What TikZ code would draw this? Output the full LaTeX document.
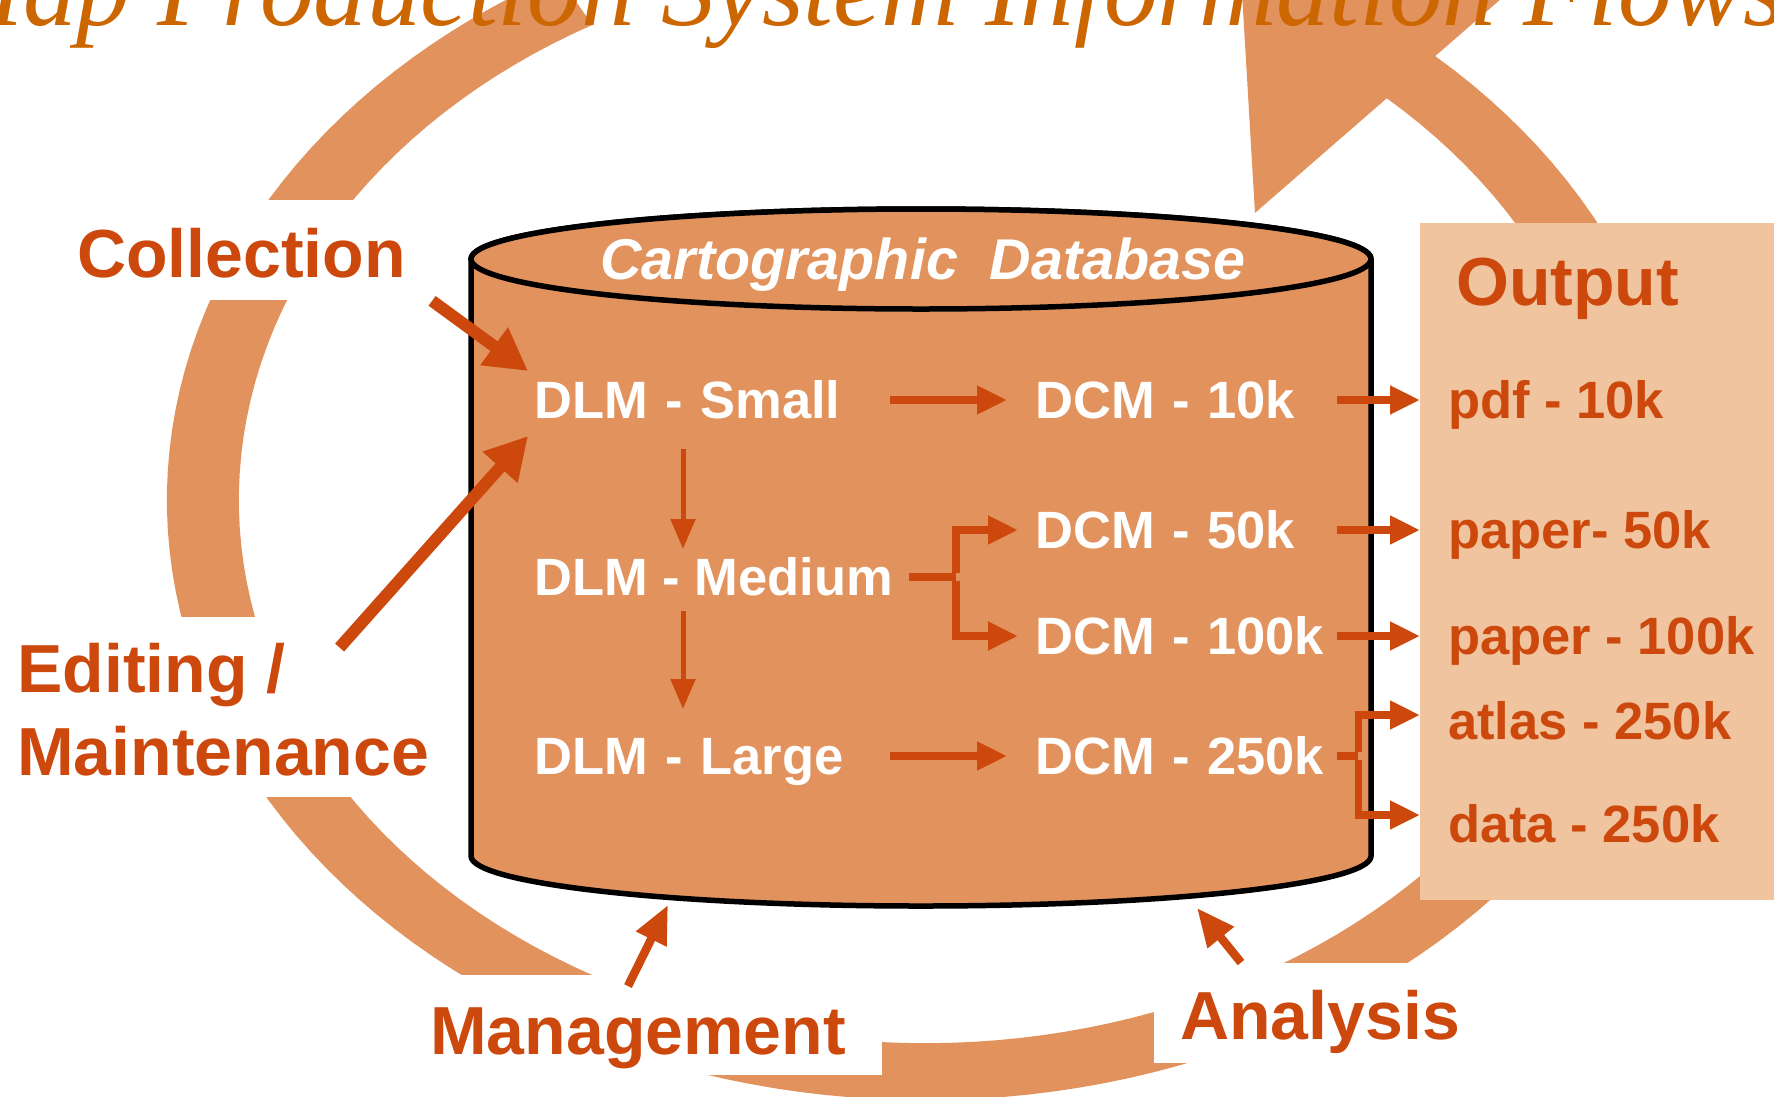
\documentclass[tikz,border=0pt]{standalone}
\usepackage{fontspec}
\setmainfont{Liberation Sans}
\newfontfamily\titlefont{Liberation Serif}
\usetikzlibrary{arrows.meta}
\definecolor{bandorange}{RGB}{226,146,92}
\definecolor{outpeach}{RGB}{239,196,158}
\definecolor{darkorange}{RGB}{204,72,12}
\definecolor{titleorange}{RGB}{204,102,0}
\begin{document}
\begin{tikzpicture}[x=1pt, y=-1pt,
  labeltext/.style={font=\fontsize{68}{81}\selectfont\bfseries, text=darkorange, inner sep=0pt, anchor=base west},
  dbtext/.style={font=\fontsize{52.5}{60}\selectfont\bfseries, text=white, inner sep=0pt,
                 text height=37.6pt, text depth=0pt, anchor=west},
  dlmtext/.style={dbtext, text width=356pt, align=left},
  dcmtext/.style={dbtext, text width=302pt, align=left},
  outtext/.style={dbtext, text=darkorange},
  flow/.style={draw=darkorange, line width=7.5pt, -{Triangle[length=30pt,width=27pt]}, shorten >=28pt},
  thinflow/.style={draw=darkorange, line width=5pt, -{Triangle[length=30pt,width=24pt]}},
  stem/.style={draw=darkorange, line width=7.5pt},
  bigflow/.style={draw=darkorange, line width=12pt, -{Triangle[length=42pt,width=44pt]}},
  midflow/.style={draw=darkorange, line width=8.5pt, -{Triangle[length=38pt,width=32pt]}}
]
\useasboundingbox (0,0) rectangle (1774,1096);
\clip (0,0) rectangle (1774,1096);

% the circular flow band with its head at the top right
\begin{scope}[shift={(925,500)}, xscale=720, yscale=570]
  \fill[bandorange]
    plot[domain=241:-47.7, samples=150] ({1.053*cos(\x)},{1.053*sin(\x)})
    -- ({1.319*cos(-47.7)},{1.319*sin(-47.7)})
    -- ({cos(-63.9)},{sin(-63.9)})
    -- ({0.681*cos(-47.7)},{0.681*sin(-47.7)})
    -- plot[domain=-47.7:241, samples=150] ({0.953*cos(\x)},{0.953*sin(\x)})
    -- cycle;
\end{scope}

% white grounds behind the stage labels
\fill[white] (60,200) rectangle (420,300);
\fill[white] (0,617) rectangle (445,797);
\fill[white] (420,975) rectangle (882,1075);
\fill[white] (1154,963) rectangle (1480,1063);

% output panel
\fill[outpeach] (1420,223) rectangle (1774,900);

% database cylinder
\filldraw[fill=bandorange, draw=black, line width=5.5pt]
  (471,259) -- (471,856) arc[start angle=180, end angle=0, x radius=450, y radius=50]
  -- (1371,259) arc[start angle=0, end angle=-180, x radius=450, y radius=50] -- cycle;
\filldraw[fill=bandorange, draw=black, line width=5.5pt]
  (921,259) ellipse[x radius=450, y radius=50];
\node[font=\fontsize{57.5}{64}\selectfont\bfseries\itshape, text=white, inner sep=0pt, anchor=base west]
  (dbtitle) at (600,279) {Cartographic\ \ Database};

% stage labels
\node[labeltext] (collection) at (77,277) {Collection};
\node[labeltext] (editing) at (17,692) {Editing /};
\node[labeltext] (maint) at (17,775) {Maintenance};
\node[labeltext] (management) at (430,1054) {Management};
\node[labeltext] (analysis) at (1180,1039) {Analysis};
\node[labeltext] (output) at (1456,305) {Output};

% landscape and cartographic models
\node[dlmtext] (small) at (534,400) {DLM - Small};
\node[dbtext] (medium) at (534,577) {DLM - Medium};
\node[dlmtext] (large) at (534,756) {DLM - Large};
\node[dcmtext] (dcm10) at (1035,400) {DCM - 10k};
\node[dcmtext] (dcm50) at (1035,530) {DCM - 50k};
\node[dcmtext] (dcm100) at (1035,636) {DCM - 100k};
\node[dcmtext] (dcm250) at (1035,756) {DCM - 250k};

% products
\node[outtext] (pdf) at (1448,400) {pdf - 10k};
\node[outtext] (paper50) at (1448,530) {paper- 50k};
\node[outtext] (paper100) at (1448,636) {paper - 100k};
\node[outtext] (atlas) at (1448,721) {atlas - 250k};
\node[outtext] (data) at (1448,824) {data - 250k};

% derivation arrows inside the database
\draw[flow] (small.east) -- (dcm10.west);
\draw[flow] (large.east) -- (dcm250.west);
\draw[thinflow, shorten <=30pt, shorten >=9pt]
  ([xshift=149pt]small.south west) -- ([xshift=149pt]small.south west |- medium.north);
\draw[thinflow, shorten <=15pt, shorten >=28pt]
  ([xshift=149pt]medium.south west) -- ([xshift=149pt]medium.south west |- large.north);
\coordinate (mfork) at ([xshift=63pt]medium.east);
\draw[stem] ([xshift=16pt]medium.east) -- (mfork);
\draw[flow, shorten >=17pt] ([yshift=3.75pt]mfork) |- (dcm50.west);
\draw[flow, shorten >=17pt] ([yshift=-3.75pt]mfork) |- (dcm100.west);

% products leaving the database
\draw[flow] (dcm10.east) -- (pdf.west);
\draw[flow] (dcm50.east) -- (paper50.west);
\draw[flow] (dcm100.east) -- (paper100.west);
\coordinate (lfork) at ([xshift=21pt]dcm250.east);
\draw[stem] (dcm250.east) -- (lfork);
\draw[flow] ([yshift=3.75pt]lfork) |- ([yshift=6pt]atlas.west);
\draw[flow] ([yshift=-3.75pt]lfork) |- ([yshift=9pt]data.west);

% stage arrows into the database
\coordinate (collin) at (528,371);
\coordinate (editin) at (528,436);
\coordinate (mgmtin) at (668,905);
\coordinate (anain) at (1197,908);
\draw[bigflow] ([xshift=26pt,yshift=-23pt]collection.south east) -- (collin);
\draw[bigflow] ([xshift=54pt,yshift=-5pt]editing.north east) -- (editin);
\draw[midflow] ([xshift=198pt,yshift=21pt]management.north west) -- (mgmtin);
\draw[midflow] ([xshift=61pt,yshift=27pt]analysis.north west) -- (anain);

% heading
\node[font={\titlefont\itshape\fontsize{107}{120}\selectfont}, text=titleorange, inner sep=0pt, anchor=base west]
  (title) at (-66,25) {Map Production System Information Flows};
\end{tikzpicture}
\end{document}
